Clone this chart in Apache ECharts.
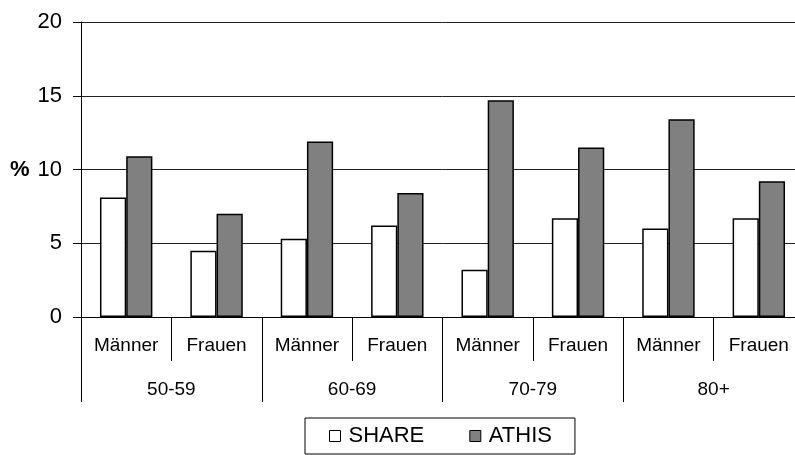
<!DOCTYPE html>
<html>
<head>
<meta charset="utf-8">
<script src="https://cdn.jsdelivr.net/npm/echarts@6/dist/echarts.min.js"></script>
<style>
html,body{margin:0;padding:0;background:#fff;overflow:hidden;width:795px;height:455px;}
#chart{width:810px;height:455px;}
</style>
</head>
<body>
<div id="chart"></div>
<script>
var categories = ['Männer','Frauen','Männer','Frauen','Männer','Frauen','Männer','Frauen'];
var groups = ['50-59','60-69','70-79','80+'];
var shareValues = [8.1, 4.5, 5.3, 6.2, 3.2, 6.7, 6.0, 6.7];
var athisValues = [10.9, 7.0, 11.9, 8.4, 14.7, 11.5, 13.4, 9.2];
var yTicks = [0, 5, 10, 15, 20];

var FONT = '"Liberation Sans", Arial, sans-serif';
var chart = echarts.init(document.getElementById('chart'), null, {renderer: 'canvas'});
chart.setOption({
  backgroundColor: '#ffffff',
  animation: false,
  grid: {left: 81, top: 22, width: 723, height: 295, containLabel: false},
  legend: {
    left: 305, top: 418,
    orient: 'horizontal',
    padding: [7, 23, 7, 24],
    itemGap: 45,
    itemWidth: 11, itemHeight: 11,
    borderColor: '#000', borderWidth: 1,
    icon: 'rect',
    textStyle: {fontFamily: FONT, fontSize: 22, color: '#000', padding: [0, 0, 0, 3]},
    data: [
      {name: 'SHARE', itemStyle: {color: '#fff', borderColor: '#000', borderWidth: 1}},
      {name: 'ATHIS', itemStyle: {color: '#808080', borderColor: '#000', borderWidth: 1}}
    ]
  },
  xAxis: [{
    type: 'category',
    data: categories,
    position: 'bottom',
    boundaryGap: true,
    axisLine: {show: true, lineStyle: {color: '#000', width: 1}},
    axisTick: {show: true, interval: 0, length: 44, lineStyle: {color: '#000', width: 1}},
    axisLabel: {interval: 0, margin: 19, fontFamily: FONT, fontSize: 19, color: '#000'},
    splitLine: {show: false}
  }, {
    type: 'category',
    data: groups,
    position: 'bottom',
    boundaryGap: true,
    axisLine: {show: false},
    axisTick: {show: true, interval: 0, length: 85, lineStyle: {color: '#000', width: 1}},
    axisLabel: {interval: 0, margin: 63, fontFamily: FONT, fontSize: 19, color: '#000'},
    splitLine: {show: false}
  }],
  yAxis: {
    type: 'value',
    min: yTicks[0], max: yTicks[yTicks.length - 1], interval: 5,
    axisLine: {show: true, lineStyle: {color: '#000', width: 1}},
    axisTick: {show: true, length: 8, lineStyle: {color: '#000', width: 1}},
    axisLabel: {margin: 19, fontFamily: FONT, fontSize: 22, color: '#000'},
    splitLine: {show: true, lineStyle: {color: '#222', width: 1}}
  },
  graphic: [{
    type: 'text',
    left: 10, top: 159,
    style: {text: '%', font: 'bold 22px ' + FONT, fill: '#000'}
  }],
  series: [{
    name: 'SHARE',
    type: 'bar',
    data: shareValues,
    barWidth: '29%',
    barGap: '0%',
    itemStyle: {color: '#ffffff', borderColor: '#000', borderWidth: 1.5}
  }, {
    name: 'ATHIS',
    type: 'bar',
    data: athisValues,
    barWidth: '29%',
    barGap: '0%',
    itemStyle: {color: '#808080', borderColor: '#000', borderWidth: 1.5}
  }]
});
</script>
</body>
</html>
